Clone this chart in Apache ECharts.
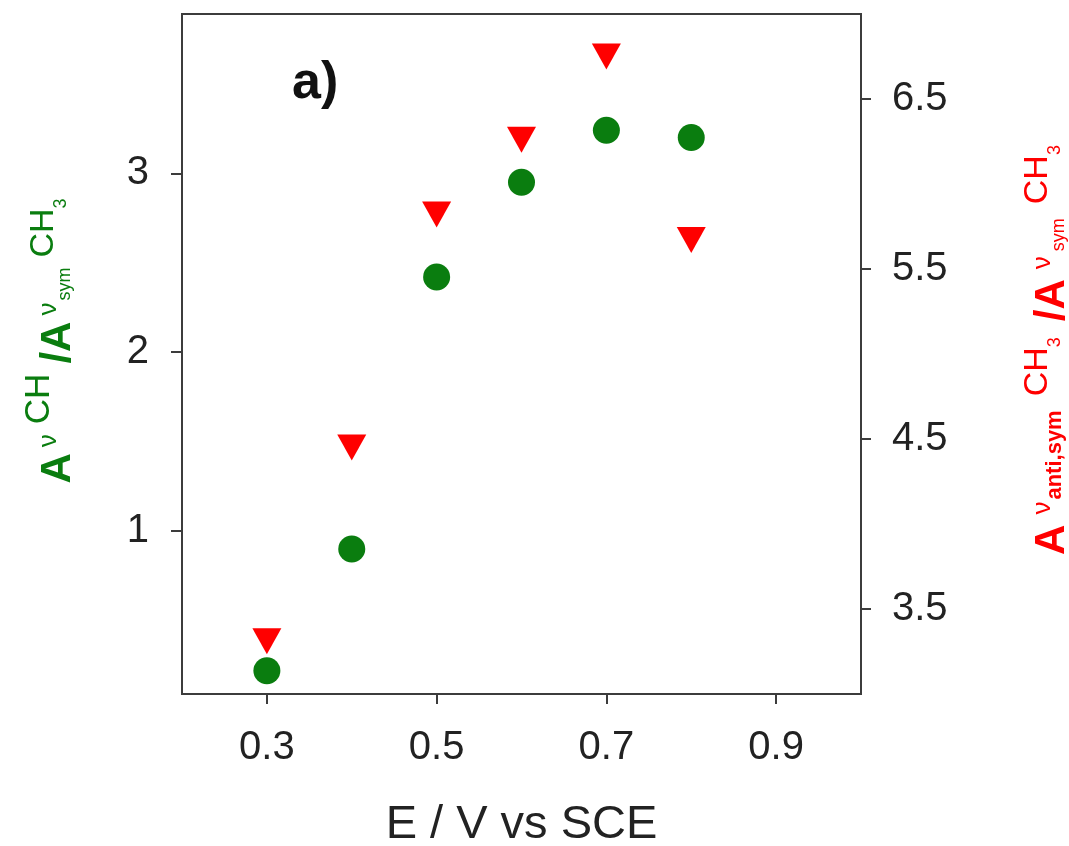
<!DOCTYPE html>
<html>
<head>
<meta charset="utf-8">
<script src="https://cdn.jsdelivr.net/npm/echarts@6/dist/echarts.min.js"></script>
<style>
  html, body { margin: 0; padding: 0; background: #fff; }
  #chart { width: 1069px; height: 846px; }
</style>
</head>
<body>
<div id="chart"></div>
<script>
// values
const potentials = [0.3, 0.4, 0.5, 0.6, 0.7, 0.8]
const ratioCH = [0.22, 0.90, 2.42, 2.95, 3.24, 3.20]
const ratioAntiSym = [3.31, 4.45, 5.82, 6.26, 6.75, 5.67]
const xTicks = [0.3, 0.5, 0.7, 0.9]
const leftTicks = [1, 2, 3]
const rightTicks = [3.5, 4.5, 5.5, 6.5]

const GREEN = '#0a7d0f'
const RED = '#ff0000'
const AXIS = '#3c3c3c'
const FONT = '"Liberation Sans", Arial, sans-serif'

const chart = echarts.init(document.getElementById('chart'))

const tickLabel = {
  fontSize: 40,
  color: '#222',
  fontFamily: FONT
}

// rich styles for the rotated axis titles (zrender style names)
// gaps: [nu, ch, slashA, sym]
const titleRich = (fill, gaps) => {
  const s = (fontSize, raise, gap, bold) => ({
    fontSize, fill, fontFamily: FONT, fontWeight: bold ? 'bold' : 'normal',
    verticalAlign: 'bottom', padding: [0, 0, raise, gap]
  })
  return {
    big: s(42, 0, 0, true),
    slashA: s(42, 0, gaps[2], true),
    nu: s(26, 17, gaps[0]),
    chHigh: s(35, 22, gaps[1]),
    ch: s(34, 18, gaps[1]),
    anti: s(22, 7, 2, true),
    sym: s(18, 5, gaps[3]),
    sub: s(18, 9, 0)
  }
}

const option = {
  backgroundColor: '#fff',
  animation: false,
  grid: {
    left: 182,
    right: 208,
    top: 14,
    bottom: 152,
    show: true,
    borderColor: AXIS,
    borderWidth: 2,
    containLabel: false,
    outerBoundsMode: 'none'
  },
  xAxis: {
    type: 'value',
    min: 0.2,
    max: 1.0,
    name: 'E / V vs SCE',
    nameLocation: 'middle',
    nameGap: 108,
    nameTextStyle: { fontSize: 47, color: '#222', fontFamily: FONT },
    axisLine: { show: true, lineStyle: { color: AXIS, width: 2 } },
    axisTick: { show: true, inside: false, length: 10, customValues: xTicks, lineStyle: { color: AXIS, width: 2 } },
    axisLabel: { ...tickLabel, margin: 34, customValues: xTicks, formatter: (v) => v.toFixed(1) },
    splitLine: { show: false }
  },
  yAxis: [
    {
      type: 'value',
      position: 'left',
      min: 0.09,
      max: 3.89,
      axisLine: { show: true, lineStyle: { color: AXIS, width: 2 } },
      axisTick: { show: true, inside: false, length: 11, customValues: leftTicks, lineStyle: { color: AXIS, width: 2 } },
      axisLabel: { ...tickLabel, margin: 33, customValues: leftTicks },
      splitLine: { show: false }
    },
    {
      type: 'value',
      position: 'right',
      min: 3,
      max: 7,
      axisLine: { show: true, lineStyle: { color: AXIS, width: 2 } },
      axisTick: { show: true, inside: false, length: 10, customValues: rightTicks, lineStyle: { color: AXIS, width: 2 } },
      axisLabel: { ...tickLabel, margin: 31, customValues: rightTicks, formatter: (v) => v.toFixed(1) },
      splitLine: { show: false }
    }
  ],
  graphic: [
    {
      type: 'text',
      left: 292,
      top: 58,
      style: { text: 'a)', fontSize: 52, fontWeight: 'bold', fill: '#111', fontFamily: FONT }
    },
    {
      type: 'text',
      x: 79,
      y: 341,
      rotation: Math.PI / 2,
      style: {
        text: '{big|A}{nu|ν}{chHigh|CH}{slashA|/A}{nu|ν}{sym|sym}{ch|CH}{sub|3}',
        rich: titleRich(GREEN, [6, 10, 10, 2]),
        align: 'center',
        verticalAlign: 'bottom'
      }
    },
    {
      type: 'text',
      x: 1073,
      y: 350,
      rotation: Math.PI / 2,
      style: {
        text: '{big|A}{nu|ν}{anti|anti,sym}{ch|CH}{sub|3}{slashA|/A}{nu|ν}{sym|sym}{ch|CH}{sub|3}',
        rich: titleRich(RED, [10, 14, 16, 5]),
        align: 'center',
        verticalAlign: 'bottom'
      }
    }
  ],
  series: [
    {
      type: 'scatter',
      yAxisIndex: 0,
      data: potentials.map((x, i) => [x, ratioCH[i]]),
      symbol: 'circle',
      symbolSize: 27,
      itemStyle: { color: GREEN, opacity: 1 }
    },
    {
      type: 'scatter',
      yAxisIndex: 1,
      data: potentials.map((x, i) => [x, ratioAntiSym[i]]),
      symbol: 'triangle',
      symbolRotate: 180,
      symbolSize: [29, 26],
      itemStyle: { color: RED, opacity: 1 }
    }
  ]
}

chart.setOption(option)
</script>
</body>
</html>
